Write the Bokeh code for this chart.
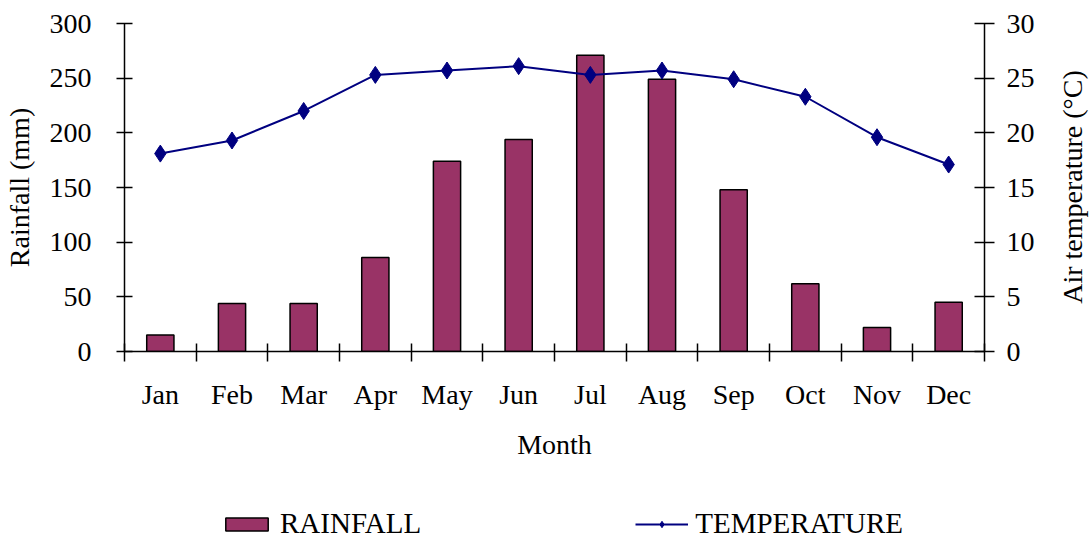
import math
from bokeh.plotting import figure
from bokeh.layouts import gridplot
from bokeh.models import (Range1d, LinearAxis, FixedTicker, Legend, LegendItem, Label)
from bokeh.embed import file_html
from bokeh.resources import INLINE

months = ["Jan", "Feb", "Mar", "Apr", "May", "Jun", "Jul", "Aug", "Sep", "Oct", "Nov", "Dec"]
rainfall = [15, 44, 44, 86, 174, 194, 271, 249, 148, 62, 22, 45]
temperature = [18.1, 19.3, 22.0, 25.3, 25.7, 26.1, 25.3, 25.7, 24.9, 23.3, 19.6, 17.1]
rain_ticks = [0, 50, 100, 150, 200, 250, 300]
temp_ticks = [0, 5, 10, 15, 20, 25, 30]

FONT = "Liberation Serif"
FS = "28px"
BAR_COLOR = "#993366"
LINE_COLOR = "#000080"

xc = [i + 0.5 for i in range(len(months))]

p = figure(frame_width=860, frame_height=328, output_backend="svg", toolbar_location=None,
           x_range=Range1d(0, len(months)), y_range=Range1d(0, 300),
           min_border_left=124, min_border_right=70, min_border_top=23, min_border_bottom=110)
p.outline_line_color = None
p.xgrid.grid_line_color = None
p.ygrid.grid_line_color = None
p.background_fill_color = "white"
p.border_fill_color = "white"

bars = p.vbar(x=xc, top=rainfall, width=0.38, bottom=0,
              fill_color=BAR_COLOR, line_color="black", line_width=1.5)

p.extra_y_ranges = {"temp": Range1d(0, 30)}
ln = p.line(xc, temperature, y_range_name="temp", line_color=LINE_COLOR, line_width=2)
mk = p.scatter(xc, temperature, y_range_name="temp", marker="diamond", size=17,
               fill_color=LINE_COLOR, line_color=LINE_COLOR, line_width=1)

# x axis
xa = p.xaxis[0]
xa.ticker = FixedTicker(ticks=xc, minor_ticks=list(range(len(months) + 1)))
xa.major_label_overrides = {x: m for x, m in zip(xc, months)}
xa.major_tick_in = 0
xa.major_tick_out = 0
xa.minor_tick_in = 8
xa.minor_tick_out = 10
xa.minor_tick_line_color = "black"
xa.minor_tick_line_width = 1.5
xa.axis_line_width = 1.5
xa.major_label_standoff = 17
xa.axis_label = "Month"
xa.axis_label_standoff = 16

# left axis
ya = p.yaxis[0]
ya.ticker = FixedTicker(ticks=rain_ticks)
ya.major_tick_in = 8
ya.major_tick_out = 8
ya.minor_tick_line_color = None
ya.axis_line_width = 1.5
ya.major_tick_line_width = 1.5
ya.major_label_standoff = 25
ya.axis_label = "Rainfall (mm)"
ya.axis_label_standoff = 12

# right axis (its title is drawn in the narrow strip to its right, reading upwards)
ra = LinearAxis(y_range_name="temp", ticker=FixedTicker(ticks=temp_ticks))
ra.major_tick_in = 10
ra.major_tick_out = 10
ra.minor_tick_line_color = None
ra.axis_line_width = 1.5
ra.major_tick_line_width = 1.5
ra.major_label_standoff = 12
p.add_layout(ra, "right")

for ax in (xa, ya, ra):
    ax.major_label_text_font = FONT
    ax.major_label_text_font_size = FS
    ax.major_label_text_color = "black"
    ax.axis_label_text_font = FONT
    ax.axis_label_text_font_size = FS
    ax.axis_label_text_font_style = "normal"
    ax.axis_label_text_color = "black"
    ax.axis_line_color = "black"
    ax.major_tick_line_color = "black"

# strip for the right-axis title
rp = figure(width=36, height=461, output_backend="svg", toolbar_location=None,
            x_range=Range1d(0, 1), y_range=Range1d(0, 1),
            x_axis_type=None, y_axis_type=None,
            min_border_left=0, min_border_right=0, min_border_top=0, min_border_bottom=0)
rp.outline_line_color = None
rp.xgrid.grid_line_color = None
rp.ygrid.grid_line_color = None
rp.add_layout(Label(x=0.5, y=0.5, text="Air temperature (°C)", angle=math.pi / 2,
                    text_align="center", text_baseline="middle",
                    text_font=FONT, text_font_size=FS, text_color="black"))

# legend strip underneath
nan = float("nan")
lp = figure(width=1054, height=78, output_backend="svg", toolbar_location=None,
            x_range=Range1d(0, 1), y_range=Range1d(0, 1),
            x_axis_type=None, y_axis_type=None,
            min_border_left=0, min_border_right=0, min_border_top=0, min_border_bottom=0)
lp.outline_line_color = None
lp.xgrid.grid_line_color = None
lp.ygrid.grid_line_color = None
lb = lp.vbar(x=[nan], top=[nan], width=0.38, bottom=0,
             fill_color=BAR_COLOR, line_color="black", line_width=1.5)
ll = lp.line(x=[nan], y=[nan], line_color=LINE_COLOR, line_width=2)
lm = lp.scatter(x=[nan], y=[nan], marker="diamond", size=17,
                fill_color=LINE_COLOR, line_color=LINE_COLOR, line_width=1)

legend = Legend(items=[LegendItem(label="RAINFALL", renderers=[lb]),
                       LegendItem(label="TEMPERATURE", renderers=[ll, lm])],
                orientation="horizontal", location=(96, 0),
                glyph_width=53, glyph_height=16, label_standoff=7, spacing=214,
                label_text_font=FONT, label_text_font_size="29px", label_text_color="black",
                border_line_color=None, background_fill_alpha=0,
                padding=0, margin=0)
lp.add_layout(legend, "center")

layout = gridplot([[p, rp], [lp, None]], toolbar_location=None)
open("out.html", "w").write(file_html(layout, INLINE))
